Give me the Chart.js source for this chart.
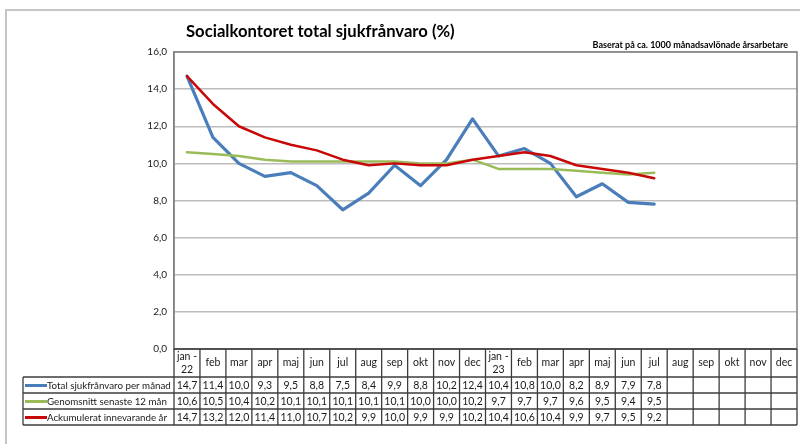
<!DOCTYPE html>
<html>
<head>
<meta charset="utf-8">
<script src="https://cdn.jsdelivr.net/npm/chart.js@4"></script>
<style>
  html, body { margin: 0; padding: 0; background: #fff; }
  #wrap { width: 800px; height: 444px; }
</style>
</head>
<body>
<div id="wrap"><canvas id="chart" width="800" height="444"></canvas></div>
<script>
// månader (kategorier)
const manader = [["jan -", "22"], "feb", "mar", "apr", "maj", "jun", "jul", "aug", "sep", "okt", "nov", "dec",
                 ["jan -", "23"], "feb", "mar", "apr", "maj", "jun", "jul", "aug", "sep", "okt", "nov", "dec"];

// serier
const totalSjuk   = [14.7, 11.4, 10.0, 9.3, 9.5, 8.8, 7.5, 8.4, 9.9, 8.8, 10.2, 12.4,
                     10.4, 10.8, 10.0, 8.2, 8.9, 7.9, 7.8, null, null, null, null, null];
const genomsnitt  = [10.6, 10.5, 10.4, 10.2, 10.1, 10.1, 10.1, 10.1, 10.1, 10.0, 10.0, 10.2,
                     9.7, 9.7, 9.7, 9.6, 9.5, 9.4, 9.5, null, null, null, null, null];
const ackumulerat = [14.7, 13.2, 12.0, 11.4, 11.0, 10.7, 10.2, 9.9, 10.0, 9.9, 9.9, 10.2,
                     10.4, 10.6, 10.4, 9.9, 9.7, 9.5, 9.2, null, null, null, null, null];

const serieNamn = ["Total sjukfrånvaro per månad", "Genomsnitt senaste 12 mån", "Ackumulerat innevarande år"];
const serieFarg = ["#4a7ebb", "#9bbb59", "#c80808"];

const titel = "Socialkontoret total sjukfrånvaro (%)";
const underTitel = "Baserat på ca. 1000 månadsavlönade årsarbetare";

const FONT = "Lato, 'Open Sans', sans-serif";

function tal(v) {
    return v == null ? "" : v.toFixed(1).replace(".", ",");
}

// sätt font så att texten får plats i en viss bredd
function fitFont(ctx, text, weight, size, maxW) {
    ctx.font = `${weight} ${size}px ${FONT}`;
    const w = ctx.measureText(text).width;
    if (w > maxW) size = size * maxW / w;
    ctx.font = `${weight} ${size}px ${FONT}`;
}

function linje(ctx, x1, y1, x2, y2) {
    ctx.beginPath();
    ctx.moveTo(x1, y1);
    ctx.lineTo(x2, y2);
    ctx.stroke();
}

/* =========================
   RAM, TITEL & DATATABELL
========================= */
const tabellPlugin = {
    id: "datatabell",
    beforeDraw(chart) {
        const ctx = chart.ctx;
        ctx.save();
        ctx.strokeStyle = "#c6c6c6";
        ctx.lineWidth = 2;
        ctx.beginPath();
        ctx.moveTo(6, 444);
        ctx.lineTo(6, 10);
        ctx.lineTo(800, 10);
        ctx.stroke();
        ctx.restore();
    },
    afterDraw(chart) {
        const { ctx, chartArea: a, scales: { x } } = chart;
        const n = manader.length;
        const colW = (a.right - a.left) / n;
        const top = a.bottom;
        const headH = 28;
        const rowH = 16;
        const legLeft = 23;
        const bottom = top + headH + 3 * rowH;

        ctx.save();

        // titel
        ctx.fillStyle = "#000";
        ctx.textBaseline = "middle";
        ctx.textAlign = "left";
        fitFont(ctx, titel, "bold", 18, 269);
        ctx.fillText(titel, 186, 32);

        ctx.textAlign = "right";
        fitFont(ctx, underTitel, "bold", 9, 200);
        ctx.fillText(underTitel, 788, 45);

        // ram runt ritytan
        ctx.strokeStyle = "#7f7f7f";
        ctx.lineWidth = 1.5;
        ctx.strokeRect(a.left, a.top, a.right - a.left, a.bottom - a.top);

        // tabellens linjer
        ctx.strokeStyle = "#3c3c3c";
        ctx.lineWidth = 1.3;
        for (let i = 0; i <= n; i++) {
            const xx = a.left + i * colW;
            linje(ctx, xx, top, xx, bottom);
        }
        linje(ctx, a.left, top, a.right, top);
        for (let r = 0; r <= 3; r++) {
            const yy = top + headH + r * rowH;
            linje(ctx, legLeft, yy, a.right, yy);
        }
        linje(ctx, legLeft, top + headH, legLeft, bottom);

        // rubrikrad
        ctx.fillStyle = "#1a1a1a";
        ctx.textAlign = "center";
        ctx.font = `10.5px ${FONT}`;
        manader.forEach((m, i) => {
            const cx = x.getPixelForValue(i);
            if (Array.isArray(m)) {
                ctx.fillText(m[0], cx, top + 8);
                ctx.fillText(m[1], cx, top + 21);
            } else {
                ctx.fillText(m, cx, top + 14);
            }
        });

        // datarader
        const serier = [totalSjuk, genomsnitt, ackumulerat];
        serier.forEach((s, r) => {
            const cy = top + headH + r * rowH + rowH / 2 + 0.5;
            ctx.strokeStyle = serieFarg[r];
            ctx.lineWidth = 3;
            linje(ctx, legLeft + 2, cy, legLeft + 24, cy);

            ctx.textAlign = "left";
            ctx.fillStyle = "#1a1a1a";
            fitFont(ctx, serieNamn[r], "normal", 11, r === 0 ? 124 : 120);
            ctx.fillText(serieNamn[r], legLeft + 24, cy);

            ctx.textAlign = "center";
            ctx.font = `10.5px ${FONT}`;
            s.forEach((v, i) => {
                ctx.fillText(tal(v), x.getPixelForValue(i), cy);
            });
        });

        ctx.restore();
    }
};

const dataset = (label, data, color, width, order) => ({
    label,
    data,
    borderColor: color,
    backgroundColor: color,
    borderWidth: width,
    pointRadius: 0,
    tension: 0,
    borderJoinStyle: "round",
    borderCapStyle: "round",
    spanGaps: false,
    order
});

new Chart(document.getElementById("chart"), {
    type: "line",
    data: {
        labels: manader,
        datasets: [
            dataset(serieNamn[0], totalSjuk, serieFarg[0], 3.2, 3),
            dataset(serieNamn[1], genomsnitt, serieFarg[1], 2.5, 2),
            dataset(serieNamn[2], ackumulerat, serieFarg[2], 2.5, 1)
        ]
    },
    options: {
        responsive: false,
        animation: false,
        layout: { padding: { left: 0, right: 3, top: 52, bottom: 95 } },
        plugins: {
            legend: { display: false },
            tooltip: { enabled: false },
            title: { display: false }
        },
        scales: {
            x: {
                display: false,
                offset: true
            },
            y: {
                min: 0,
                max: 16,
                afterFit: s => { s.width = 174; },
                ticks: {
                    stepSize: 2,
                    padding: 7,
                    color: "#1a1a1a",
                    font: { family: FONT, size: 10 },
                    callback: v => tal(v)
                },
                grid: {
                    color: "#bcbcbc",
                    lineWidth: 1.5,
                    drawTicks: false
                },
                border: { color: "#8f8f8f", width: 1.5 }
            }
        }
    },
    plugins: [tabellPlugin]
});
</script>
</body>
</html>
